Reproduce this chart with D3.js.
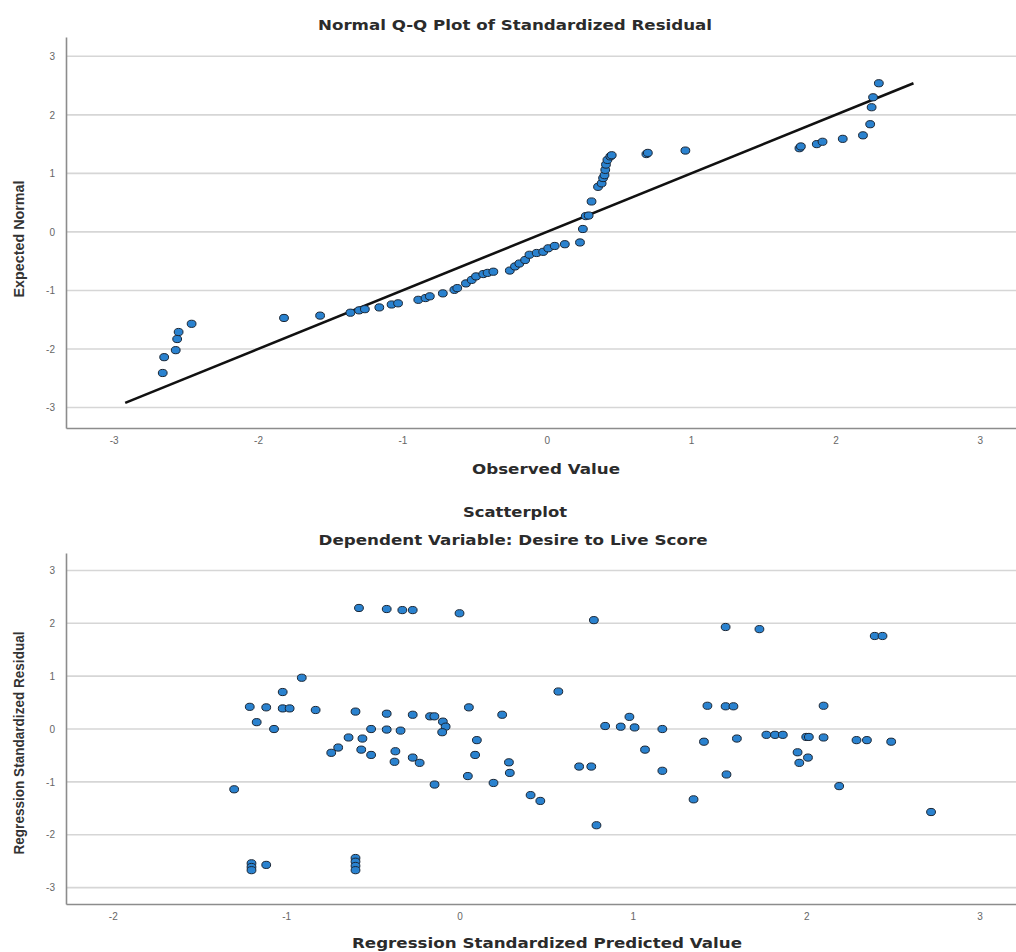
<!DOCTYPE html>
<html>
<head>
<meta charset="utf-8">
<script src="https://cdn.jsdelivr.net/npm/d3@7"></script>
<style>
  html, body { margin: 0; padding: 0; background: #ffffff; }
  svg { display: block; }
</style>
</head>
<body>
<svg id="chart" width="1016" height="952"></svg>
<script>
// ---------------- DATA ----------------
const qqTitle = "Normal Q-Q Plot of Standardized Residual";
const qqXLabel = "Observed Value";
const qqYLabel = "Expected Normal";
const qqXTicks = [-3, -2, -1, 0, 1, 2, 3];
const qqYTicks = [-3, -2, -1, 0, 1, 2, 3];
const qqObserved = [-2.66,-2.65,-2.57,-2.56,-2.55,-2.46,-1.82,-1.57,-1.36,-1.30,-1.26,-1.16,-1.075,-1.03,
  -0.89,-0.84,-0.81,-0.72,-0.64,-0.62,-0.56,-0.52,-0.49,-0.44,-0.41,-0.37,-0.256,-0.22,-0.19,-0.15,-0.12,
  -0.07,-0.025,0.01,0.055,0.125,0.23,0.25,0.27,0.29,0.31,0.355,0.38,0.39,0.40,0.405,0.41,0.42,0.44,0.45,
  0.69,0.70,0.96,1.75,1.76,1.87,1.91,2.05,2.19,2.24,2.25,2.26,2.30];
const qqExpected = [-2.41,-2.14,-2.02,-1.83,-1.71,-1.57,-1.47,-1.43,-1.38,-1.34,-1.32,-1.29,-1.24,-1.22,
  -1.16,-1.13,-1.10,-1.05,-0.99,-0.96,-0.88,-0.82,-0.76,-0.72,-0.70,-0.68,-0.66,-0.59,-0.54,-0.48,-0.39,
  -0.36,-0.34,-0.28,-0.24,-0.21,-0.18,0.05,0.27,0.28,0.52,0.77,0.83,0.92,0.97,1.06,1.15,1.23,1.29,1.31,
  1.33,1.35,1.39,1.43,1.46,1.50,1.54,1.59,1.65,1.84,2.13,2.30,2.54];
const qqLineEnds = [-2.92, 2.54];

const spTitle1 = "Scatterplot";
const spTitle2 = "Dependent Variable: Desire to Live Score";
const spXLabel = "Regression Standardized Predicted Value";
const spYLabel = "Regression Standardized Residual";
const spXTicks = [-2, -1, 0, 1, 2, 3];
const spYTicks = [-3, -2, -1, 0, 1, 2, 3];
const spPredicted = [-0.58,-0.42,-0.33,-0.27,0.00,0.775,1.535,1.73,2.395,2.44,
  -0.91,-1.02,0.57,
  -1.21,-1.115,-1.02,-0.98,-0.83,-0.60,-0.42,-0.27,-0.17,-0.145,0.054,0.246,1.43,1.535,1.58,2.10,
  0.98,
  -1.17,-1.07,-0.51,-0.42,-0.34,-0.096,-0.08,-0.10,
  -0.64,-0.56,-0.70,-0.74,-0.567,-0.51,-0.37,-0.375,-0.27,-0.23,
  0.10,0.09,0.048,-0.144,0.196,0.285,0.29,
  -1.30,-1.20,-1.20,-1.20,-1.115,-0.60,-0.60,-0.60,-0.60,
  0.41,0.466,0.69,0.76,0.79,0.84,0.93,1.01,1.07,1.17,1.17,1.35,1.41,1.60,1.54,
  1.77,1.82,1.865,1.95,1.96,2.00,2.015,2.01,2.10,2.19,2.29,2.35,2.49,2.72];
const spResidual = [2.29,2.27,2.25,2.25,2.19,2.06,1.93,1.89,1.76,1.76,
  0.97,0.70,0.71,
  0.42,0.41,0.39,0.39,0.36,0.33,0.29,0.27,0.24,0.24,0.41,0.27,0.44,0.43,0.43,0.44,
  0.23,
  0.13,0.00,0.00,-0.01,-0.03,0.14,0.045,-0.06,
  -0.16,-0.18,-0.35,-0.45,-0.39,-0.49,-0.42,-0.62,-0.54,-0.64,
  -0.21,-0.49,-0.89,-1.05,-1.02,-0.63,-0.83,
  -1.14,-2.54,-2.61,-2.67,-2.57,-2.44,-2.51,-2.59,-2.67,
  -1.25,-1.36,-0.71,-0.71,-1.82,0.057,0.044,0.03,-0.39,0.00,-0.79,-1.33,-0.24,-0.18,-0.86,
  -0.11,-0.11,-0.11,-0.44,-0.64,-0.15,-0.15,-0.54,-0.16,-1.08,-0.21,-0.21,-0.24,-1.57];

// ---------------- STYLE ----------------
const gridColor = "#d6d6d6";
const axisColor = "#8c8c8c";
const tickColor = "#666666";
const titleColor = "#2b2b2b";
const dotFill = "#2a82cf";
const dotStroke = "#1a2533";
const titleFont = "'DejaVu Sans', 'Liberation Sans', Arial, sans-serif";
const narrowFont = "'Liberation Sans Narrow', 'Arial Narrow', 'Liberation Sans', Arial, sans-serif";

const svg = d3.select("#chart");

function drawPanel(cfg) {
  const g = svg.append("g");
  const x = d3.scaleLinear().domain(cfg.xDomain).range([cfg.left, cfg.right]);
  const y = d3.scaleLinear().domain(cfg.yDomain).range([cfg.bottom, cfg.top]);

  g.append("g").selectAll("line").data(cfg.yTicks).join("line")
    .attr("x1", cfg.left).attr("x2", cfg.right)
    .attr("y1", d => y(d)).attr("y2", d => y(d))
    .attr("stroke", gridColor).attr("stroke-width", 1.6);

  const yAxis = g.append("g").attr("transform", `translate(${cfg.left},0)`)
    .call(d3.axisLeft(y).tickValues(cfg.yTicks).tickSize(0).tickSizeOuter(0).tickPadding(11).tickFormat(d => String(d)));
  const xAxis = g.append("g").attr("transform", `translate(0,${cfg.bottom})`)
    .call(d3.axisBottom(x).tickValues(cfg.xTicks).tickSize(0).tickSizeOuter(0).tickPadding(9).tickFormat(d => String(d)));
  [yAxis, xAxis].forEach(a => {
    a.select(".domain").attr("stroke", axisColor).attr("stroke-width", 1.6);
    a.selectAll("text").attr("fill", tickColor).attr("font-size", 10)
      .attr("font-family", "'Liberation Sans', Arial, sans-serif");
  });

  return { g, x, y };
}

// ---------------- TOP: Q-Q PLOT ----------------
const qqPanel = drawPanel({
  left: 66, right: 1016, top: 37, bottom: 428,
  xDomain: [-3.33, 3.25], yDomain: [-3.35, 3.33],
  xTicks: qqXTicks, yTicks: qqYTicks
});

qqPanel.g.append("line")
  .attr("x1", qqPanel.x(qqLineEnds[0])).attr("y1", qqPanel.y(qqLineEnds[0]))
  .attr("x2", qqPanel.x(qqLineEnds[1])).attr("y2", qqPanel.y(qqLineEnds[1]))
  .attr("stroke", "#111").attr("stroke-width", 2.6);

qqPanel.g.append("g").selectAll("ellipse").data(d3.range(qqObserved.length)).join("ellipse")
  .attr("cx", i => qqPanel.x(qqObserved[i])).attr("cy", i => qqPanel.y(qqExpected[i]))
  .attr("rx", 4.4).attr("ry", 3.6)
  .attr("fill", dotFill).attr("stroke", dotStroke).attr("stroke-width", 1);

// ---------------- BOTTOM: SCATTERPLOT ----------------
const spPanel = drawPanel({
  left: 66, right: 1016, top: 553, bottom: 904,
  xDomain: [-2.27, 3.21], yDomain: [-3.31, 3.33],
  xTicks: spXTicks, yTicks: spYTicks
});

spPanel.g.append("g").selectAll("ellipse").data(d3.range(spPredicted.length)).join("ellipse")
  .attr("cx", i => spPanel.x(spPredicted[i])).attr("cy", i => spPanel.y(spResidual[i]))
  .attr("rx", 4.4).attr("ry", 3.6)
  .attr("fill", dotFill).attr("stroke", dotStroke).attr("stroke-width", 1);

// ---------------- TEXTS ----------------
function boldText(t, cx, cy, len) {
  svg.append("text").text(t)
    .attr("x", cx).attr("y", cy)
    .attr("text-anchor", "middle").attr("dominant-baseline", "central")
    .attr("font-family", titleFont).attr("font-weight", "bold").attr("font-size", 13.5)
    .attr("fill", titleColor)
    .attr("textLength", len).attr("lengthAdjust", "spacingAndGlyphs");
}
function yTitle(t, cx, cy, len) {
  svg.append("text").text(t)
    .attr("transform", `translate(${cx},${cy}) rotate(-90)`)
    .attr("text-anchor", "middle").attr("dominant-baseline", "central")
    .attr("font-family", narrowFont).attr("font-size", 15).attr("font-weight", "bold")
    .attr("fill", "#333333")
    .attr("textLength", len).attr("lengthAdjust", "spacingAndGlyphs");
}

boldText(qqTitle, 515, 25, 394);
boldText(qqXLabel, 546, 469, 148);
yTitle(qqYLabel, 18, 239, 117);

boldText(spTitle1, 515, 512, 104);
boldText(spTitle2, 513, 540, 389);
boldText(spXLabel, 547, 943, 390);
yTitle(spYLabel, 18, 743, 223);
</script>
</body>
</html>
